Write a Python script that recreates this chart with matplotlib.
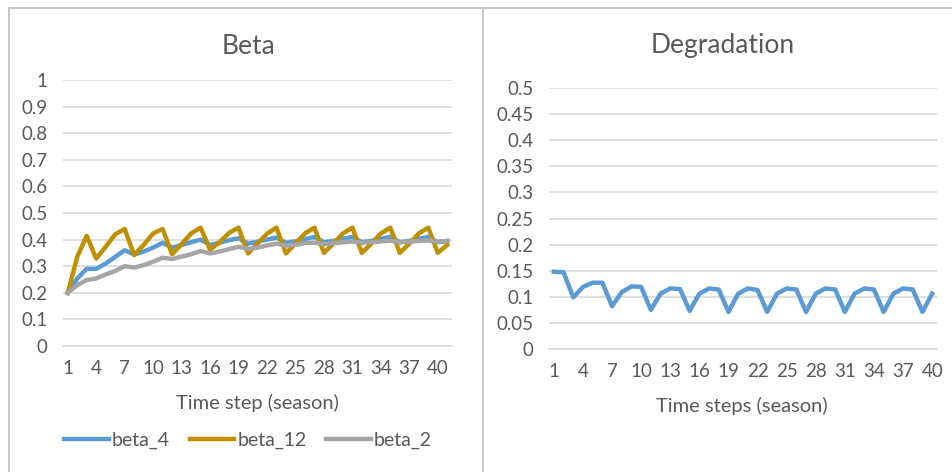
import numpy as np
import matplotlib
matplotlib.use('Agg')
import matplotlib.pyplot as plt
from matplotlib.lines import Line2D
from matplotlib.ticker import FuncFormatter

plt.rcParams['font.family'] = ['Lato', 'DejaVu Sans']

# beta runs (41 seasons)
steps_beta = list(range(1, 42))
beta_4 = [0.200, 0.254, 0.290, 0.290, 0.310, 0.335, 0.360, 0.344, 0.355, 0.370,
          0.388, 0.370, 0.380, 0.390, 0.400, 0.380, 0.388, 0.398, 0.405, 0.385,
          0.392, 0.400, 0.408, 0.388, 0.393, 0.402, 0.410, 0.390, 0.395, 0.403,
          0.410, 0.390, 0.395, 0.403, 0.410, 0.390, 0.395, 0.403, 0.410, 0.390,
          0.395]
beta_12 = [0.200, 0.335, 0.414, 0.329, 0.373, 0.420, 0.440, 0.342, 0.380, 0.423,
           0.440, 0.345, 0.383, 0.423, 0.445, 0.362, 0.390, 0.425, 0.445, 0.348,
           0.385, 0.422, 0.445, 0.348, 0.385, 0.423, 0.445, 0.350, 0.385, 0.423,
           0.445, 0.350, 0.385, 0.423, 0.445, 0.350, 0.385, 0.423, 0.445, 0.350,
           0.380]
beta_2 = [0.200, 0.229, 0.248, 0.254, 0.269, 0.282, 0.300, 0.295, 0.304, 0.317,
          0.332, 0.327, 0.336, 0.345, 0.357, 0.348, 0.355, 0.364, 0.373, 0.365,
          0.370, 0.378, 0.385, 0.377, 0.380, 0.387, 0.388, 0.383, 0.386, 0.390,
          0.393, 0.388, 0.390, 0.393, 0.396, 0.390, 0.392, 0.395, 0.397, 0.392,
          0.395]

# degradation (40 seasons)
steps_deg = list(range(1, 41))
degradation = [0.148, 0.147, 0.099, 0.119, 0.127, 0.127, 0.082, 0.109, 0.120, 0.119,
               0.075, 0.106, 0.116, 0.115, 0.073, 0.106, 0.116, 0.114, 0.071, 0.106,
               0.116, 0.113, 0.071, 0.106, 0.116, 0.114, 0.071, 0.106, 0.116, 0.114,
               0.071, 0.106, 0.116, 0.114, 0.071, 0.106, 0.116, 0.114, 0.071, 0.106]

BLUE = '#5B9BD5'
GOLD = '#BF9000'
GREY = '#A5A5A5'
TEXT = '#595959'
GRID = '#D9D9D9'
W, H = 952, 472


def excel_axes(ax, n, ymax, ystep):
    ax.set_xlim(0.5, n + 0.5)
    ax.set_ylim(0, ymax)
    ax.set_yticks(np.arange(0, ymax + ystep / 2, ystep))
    ax.yaxis.set_major_formatter(FuncFormatter(lambda v, _: f'{v:g}'))
    ax.set_xticks(range(1, n + 1, 3))
    ax.yaxis.grid(True, color=GRID, lw=1.2)
    ax.set_axisbelow(True)
    for s in ['top', 'right', 'left']:
        ax.spines[s].set_visible(False)
    ax.spines['bottom'].set_color(GRID)
    ax.spines['bottom'].set_linewidth(1.2)
    ax.tick_params(length=0, colors=TEXT, labelsize=13.5)
    ax.tick_params(axis='y', pad=11)
    ax.tick_params(axis='x', pad=10)


fig = plt.figure(figsize=(W / 100, H / 100), dpi=100)

ax1 = fig.add_axes([63 / W, 1 - 346 / H, 389 / W, 266 / H])
ax2 = fig.add_axes([549 / W, 1 - 349 / H, 388 / W, 261 / H])

lw = 3.2
ax1.plot(steps_beta, beta_4, color=BLUE, lw=lw, label='beta_4', solid_joinstyle='round')
ax1.plot(steps_beta, beta_12, color=GOLD, lw=lw, label='beta_12', solid_joinstyle='round')
ax1.plot(steps_beta, beta_2, color=GREY, lw=lw, label='beta_2', solid_joinstyle='round')
excel_axes(ax1, len(steps_beta), 1.0, 0.1)

ax2.plot(steps_deg, degradation, color=BLUE, lw=lw, solid_joinstyle='round')
excel_axes(ax2, len(steps_deg), 0.5, 0.05)

# titles and axis captions
fig.text(248 / W, 1 - 46 / H, 'Beta', ha='center', va='center', fontsize=19, color=TEXT)
fig.text(723 / W, 1 - 46 / H, 'Degradation', ha='center', va='center', fontsize=19, color=TEXT)
fig.text(257 / W, 1 - 403 / H, 'Time step (season)', ha='center', va='center', fontsize=14.5, color=TEXT)
fig.text(742 / W, 1 - 406 / H, 'Time steps (season)', ha='center', va='center', fontsize=14.5, color=TEXT)

handles, labels = ax1.get_legend_handles_labels()
fig.legend(handles, labels, loc='center', bbox_to_anchor=(248 / W, 1 - 440 / H), ncol=3,
           frameon=False, fontsize=14, labelcolor=TEXT, handlelength=2.3,
           handletextpad=0.15, columnspacing=1.0)

# chart frames
frame = '#BFBFBF'
fig.add_artist(Line2D([9 / W, 1], [1 - 8 / H, 1 - 8 / H], transform=fig.transFigure, color=frame, lw=1.2))
fig.add_artist(Line2D([9 / W, 9 / W], [0, 1 - 8 / H], transform=fig.transFigure, color=frame, lw=1.2))
fig.add_artist(Line2D([483 / W, 483 / W], [0, 1 - 8 / H], transform=fig.transFigure, color=frame, lw=1.2))

fig.savefig('out.png', dpi=100)
